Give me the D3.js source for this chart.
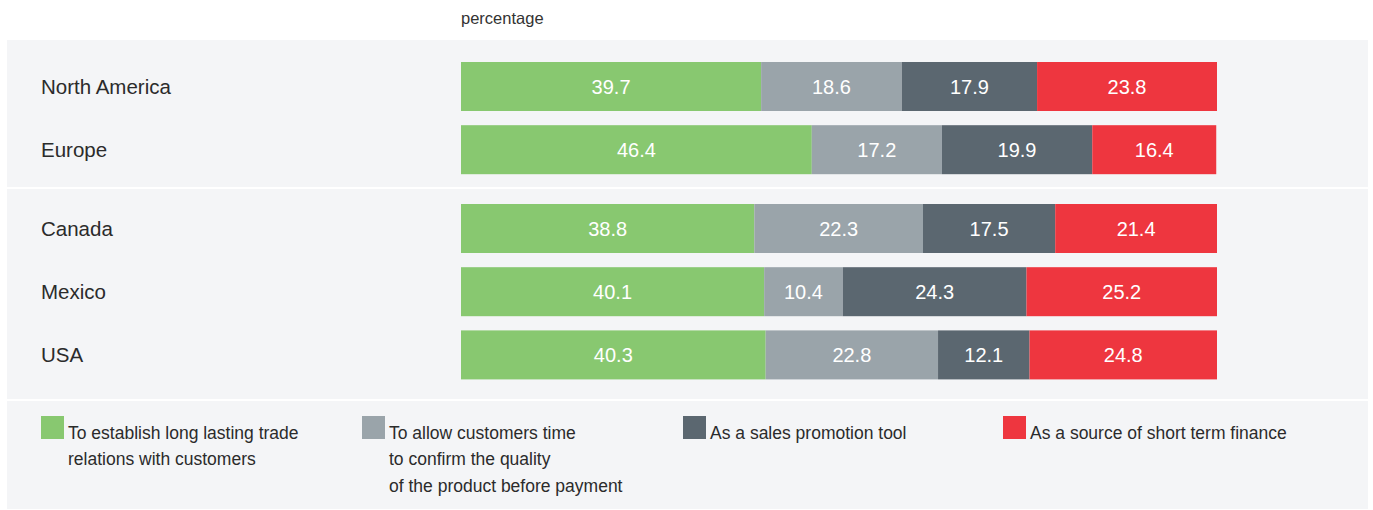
<!DOCTYPE html>
<html>
<head>
<meta charset="utf-8">
<script src="https://cdn.jsdelivr.net/npm/d3@7"></script>
<style>
  html, body { margin: 0; padding: 0; background: #ffffff; }
  svg { display: block; }
  text { font-family: "Liberation Sans Narrow", "Liberation Sans", sans-serif; }
</style>
</head>
<body>
<svg id="chart" width="1373" height="510"></svg>
<script>
// Reasons for offering trade credit, share of respondents (%)
const regions   = ["North America", "Europe", "Canada", "Mexico", "USA"];
const groups    = [0, 0, 1, 1, 1];
const establish = [39.7, 46.4, 38.8, 40.1, 40.3];
const quality   = [18.6, 17.2, 22.3, 10.4, 22.8];
const promotion = [17.9, 19.9, 17.5, 24.3, 12.1];
const finance   = [23.8, 16.4, 21.4, 25.2, 24.8];

const seriesKeys = ["establish", "quality", "promotion", "finance"];
const seriesLabels = [
  ["To establish long lasting trade", "relations with customers"],
  ["To allow customers time", "to confirm the quality", "of the product before payment"],
  ["As a sales promotion tool"],
  ["As a source of short term finance"]
];
const colors = ["#88c870", "#9aa4aa", "#5b6770", "#ee363f"];

const table = regions.map((r, i) => ({
  region: r, group: groups[i],
  establish: establish[i], quality: quality[i],
  promotion: promotion[i], finance: finance[i]
}));

const svg = d3.select("#chart");

// background panel and white separators
const panel = { x0: 7, x1: 1368, y0: 40, y1: 509 };
svg.append("rect")
  .attr("x", panel.x0).attr("y", panel.y0)
  .attr("width", panel.x1 - panel.x0).attr("height", panel.y1 - panel.y0)
  .attr("fill", "#f4f5f7");
[188, 400].forEach(y => {
  svg.append("rect")
    .attr("x", panel.x0).attr("y", y - 1)
    .attr("width", panel.x1 - panel.x0).attr("height", 2)
    .attr("fill", "#ffffff");
});

svg.append("text")
  .attr("x", 461).attr("y", 24)
  .attr("font-size", 16.5).attr("fill", "#333")
  .text("percentage");

const x = d3.scaleLinear().domain([0, 100]).range([461, 1217]);

// rows are placed per group; each group has its own band scale
const groupTop = [62, 204];
const step = 63.2, barH = 49;
const rowIndex = table.map((d, i) => table.slice(0, i).filter(e => e.group === d.group).length);
const yBand = d3.scaleBand().domain(d3.range(3)).range([0, 3 * step]).paddingInner(1 - barH / step).paddingOuter(0).align(0);
const yTop = i => groupTop[table[i].group] + rowIndex[i] * step;

const stacked = d3.stack().keys(seriesKeys)(table);

const layer = svg.append("g").selectAll("g")
  .data(stacked).join("g")
  .attr("fill", (d, k) => colors[k]);

layer.selectAll("rect")
  .data(d => d.map((p, i) => ({ p, i })))
  .join("rect")
  .attr("x", d => x(d.p[0]))
  .attr("y", d => yTop(d.i))
  .attr("width", d => x(d.p[1]) - x(d.p[0]))
  .attr("height", barH);

layer.selectAll("text")
  .data(d => d.map((p, i) => ({ p, i })))
  .join("text")
  .attr("x", d => (x(d.p[0]) + x(d.p[1])) / 2)
  .attr("y", d => yTop(d.i) + barH / 2)
  .attr("dy", "0.36em")
  .attr("text-anchor", "middle")
  .attr("font-size", 20)
  .attr("fill", "#ffffff")
  .text(d => d3.format(".1f")(d.p[1] - d.p[0]));

// region labels
svg.append("g").selectAll("text")
  .data(table).join("text")
  .attr("x", 41)
  .attr("y", (d, i) => yTop(i) + barH / 2)
  .attr("dy", "0.36em")
  .attr("font-size", 20.5)
  .attr("fill", "#2b2b2b")
  .text(d => d.region);

// legend
const legendX = [41, 362, 683, 1003];
const legend = svg.append("g").selectAll("g")
  .data(seriesKeys).join("g")
  .attr("transform", (d, k) => `translate(${legendX[k]},416)`);
legend.append("rect")
  .attr("width", 23).attr("height", 23)
  .attr("fill", (d, k) => colors[k]);
legend.append("text")
  .attr("x", 27)
  .attr("font-size", 17.5)
  .attr("fill", "#2b2b2b")
  .selectAll("tspan")
  .data((d, k) => seriesLabels[k])
  .join("tspan")
  .attr("x", 27)
  .attr("y", (t, j) => 23 + j * 26.3)
  .text(t => t);
</script>
</body>
</html>
